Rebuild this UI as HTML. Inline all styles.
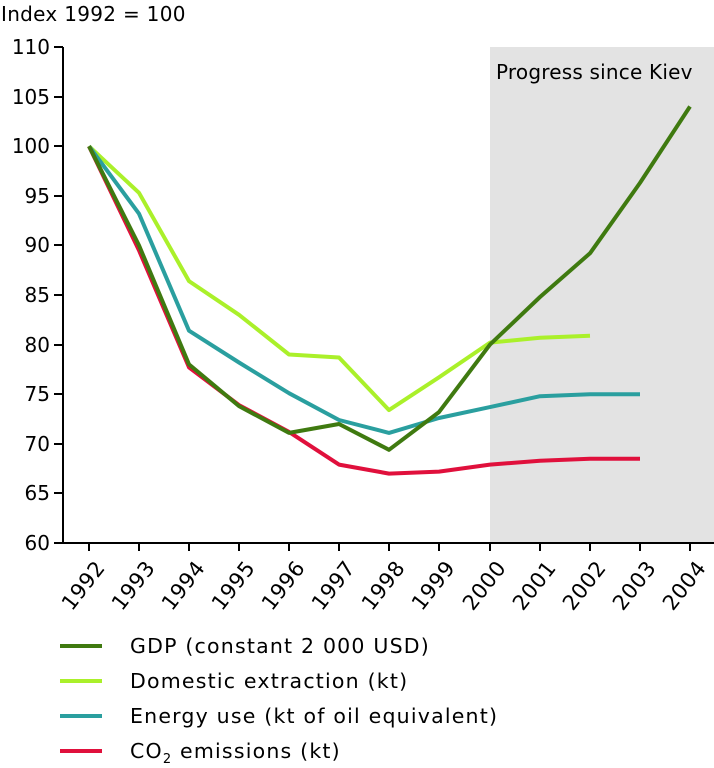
<!DOCTYPE html>
<html><head><style>body{margin:0;background:#fff}svg{display:block}text{font-family:"DejaVu Sans","Liberation Sans",sans-serif;fill:#000}</style></head>
<body>
<svg width="714" height="768" viewBox="0 0 714 768">
<rect x="490" y="47" width="224" height="496" fill="#e3e3e3"/>
<text x="1" y="21" font-size="20" letter-spacing="0.3">Index 1992 = 100</text>
<text x="496" y="79" font-size="20" letter-spacing="0.2">Progress since Kiev</text>
<g stroke="#000" stroke-width="2" fill="none">
<line x1="63" y1="47" x2="63" y2="544"/>
<line x1="62" y1="543" x2="714" y2="543"/>
<line x1="54" y1="47" x2="63" y2="47"/><line x1="54" y1="97" x2="63" y2="97"/><line x1="54" y1="146" x2="63" y2="146"/><line x1="54" y1="196" x2="63" y2="196"/><line x1="54" y1="245" x2="63" y2="245"/><line x1="54" y1="295" x2="63" y2="295"/><line x1="54" y1="345" x2="63" y2="345"/><line x1="54" y1="394" x2="63" y2="394"/><line x1="54" y1="444" x2="63" y2="444"/><line x1="54" y1="493" x2="63" y2="493"/><line x1="54" y1="543" x2="63" y2="543"/>
<line x1="89" y1="543" x2="89" y2="551"/><line x1="139" y1="543" x2="139" y2="551"/><line x1="189" y1="543" x2="189" y2="551"/><line x1="239" y1="543" x2="239" y2="551"/><line x1="289" y1="543" x2="289" y2="551"/><line x1="339" y1="543" x2="339" y2="551"/><line x1="389" y1="543" x2="389" y2="551"/><line x1="439" y1="543" x2="439" y2="551"/><line x1="490" y1="543" x2="490" y2="551"/><line x1="540" y1="543" x2="540" y2="551"/><line x1="590" y1="543" x2="590" y2="551"/><line x1="640" y1="543" x2="640" y2="551"/><line x1="690" y1="543" x2="690" y2="551"/>
</g>
<g font-size="20" text-anchor="end">
<text x="50" y="54">110</text><text x="50" y="104">105</text><text x="50" y="153">100</text><text x="50" y="203">95</text><text x="50" y="252">90</text><text x="50" y="302">85</text><text x="50" y="352">80</text><text x="50" y="401">75</text><text x="50" y="451">70</text><text x="50" y="500">65</text><text x="50" y="550">60</text>
</g>
<g font-size="21" text-anchor="end" letter-spacing="0.5">
<text transform="translate(106,568) rotate(-52)">1992</text>
<text transform="translate(156,568) rotate(-52)">1993</text>
<text transform="translate(206,568) rotate(-52)">1994</text>
<text transform="translate(256,568) rotate(-52)">1995</text>
<text transform="translate(306,568) rotate(-52)">1996</text>
<text transform="translate(356,568) rotate(-52)">1997</text>
<text transform="translate(406,568) rotate(-52)">1998</text>
<text transform="translate(456,568) rotate(-52)">1999</text>
<text transform="translate(507,568) rotate(-52)">2000</text>
<text transform="translate(557,568) rotate(-52)">2001</text>
<text transform="translate(607,568) rotate(-52)">2002</text>
<text transform="translate(657,568) rotate(-52)">2003</text>
<text transform="translate(707,568) rotate(-52)">2004</text>
</g>
<g fill="none" stroke-width="4" stroke-linejoin="round">
<polyline stroke="#aaf02a" points="89,146.2 139,192.8 189,281.1 239,314.8 289,354.5 339,357.5 389,410.1 439,377.3 490,342.6 540,337.7 590,335.7"/>
<polyline stroke="#2a9f9f" points="89,146.2 139,213.7 189,330.7 239,362.5 289,393.2 339,420 389,432.9 439,418 490,407.1 540,396.2 590,394.2 640,394.2"/>
<polyline stroke="#e0103c" points="89,146.2 139,250.4 189,367.4 239,405.1 289,431.9 339,464.6 389,473.6 439,471.6 490,464.6 540,460.7 590,458.7 640,458.7"/>
<polyline stroke="#3f7a10" points="89,146.2 139,245.4 189,364.4 239,406.1 289,432.9 339,424 389,449.8 439,412.1 490,344.6 540,297 590,253.3 640,182.9 690,106.5"/>
</g>
<g stroke-width="4">
<line x1="60" y1="646" x2="102" y2="646" stroke="#3f7a10"/>
<line x1="60" y1="681" x2="102" y2="681" stroke="#aaf02a"/>
<line x1="60" y1="716" x2="102" y2="716" stroke="#2a9f9f"/>
<line x1="60" y1="751" x2="102" y2="751" stroke="#e0103c"/>
</g>
<g font-size="20.5" letter-spacing="1.2">
<text x="130" y="653">GDP (constant 2 000 USD)</text>
<text x="130" y="688">Domestic extraction (kt)</text>
<text x="130" y="723">Energy use (kt of oil equivalent)</text>
<text x="130" y="758">CO<tspan font-size="13" dy="5">2</tspan><tspan dy="-5"> emissions (kt)</tspan></text>
</g>
</svg>
</body></html>
